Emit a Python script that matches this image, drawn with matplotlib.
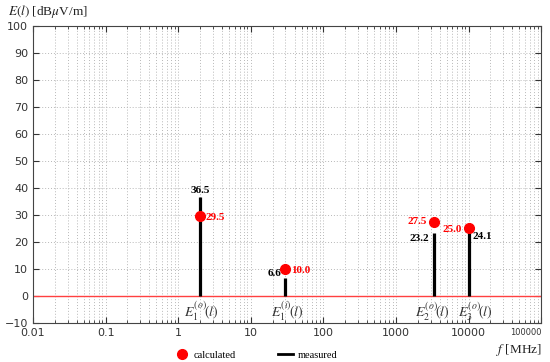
import matplotlib
matplotlib.use("Agg")
import matplotlib.pyplot as plt
from matplotlib.lines import Line2D
from matplotlib.ticker import LogLocator, NullFormatter, FixedLocator, FixedFormatter

freqs = [2, 30, 3300, 10000]
measured = [36.5, 6.6, 23.2, 24.1]
calculated = [29.5, 10.0, 27.5, 25.0]
names = [r"$E_1^{(o)}\!(l)$", r"$E_1^{(i)}\!(l)$", r"$E_2^{(o)}\!(l)$", r"$E_3^{(o)}\!(l)$"]
xticks = [0.01, 0.1, 1, 10, 100, 1000, 10000, 100000]
xticklabels = ["0.01", "0.1", "1", "10", "100", "1000", "10000", "100000"]
yticks = list(range(-10, 101, 10))

plt.rcParams["mathtext.fontset"] = "stix"
serif = "Liberation Serif"

fig = plt.figure(figsize=(5.5, 3.62), dpi=100)
ax = fig.add_axes([0.06, 0.108, 0.924, 0.82])

ax.set_xscale("log")
ax.set_xlim(0.01, 100000)
ax.set_ylim(-10, 100)

ax.xaxis.set_major_locator(FixedLocator(xticks))
ax.xaxis.set_major_formatter(FixedFormatter(xticklabels))
ax.xaxis.set_minor_locator(LogLocator(base=10, subs=range(2, 10), numticks=20))
ax.xaxis.set_minor_formatter(NullFormatter())
ax.set_yticks(yticks)

ax.grid(True, which="both", axis="x", color="#b8b8b8", linestyle=(0, (1, 2)), linewidth=0.7)
ax.grid(True, which="major", axis="y", color="#b8b8b8", linestyle=(0, (1, 2)), linewidth=0.7)
ax.tick_params(which="both", direction="in", top=True, right=True, labelsize=8, colors="#333333")
ax.tick_params(which="major", length=4)
ax.tick_params(which="minor", length=2.5)
for lbl in ax.get_xticklabels():
    if lbl.get_text() == "100000":
        lbl.set_fontsize(6)
        lbl.set_horizontalalignment("right")
for sp in ax.spines.values():
    sp.set_color("#444444")

ax.axhline(0, color="#ff4040", linewidth=1)

ax.vlines(freqs, 0, measured, color="black", linewidth=2.3, zorder=3)
ax.plot(freqs, calculated, "o", color="red", markersize=7, zorder=4)

# value labels: (offset for calculated, ha), (offset for measured, ha)
calc_off = [((4, -1), "left"), ((4, -1), "left"), ((-5, 0), "right"), ((-5, -1), "right")]
meas_off = [((0, 5), "center"), ((-3, 3), "right"), ((-3, -4), "right"), ((3, -4), "left")]
for f, m, c, (co, cha), (mo, mha) in zip(freqs, measured, calculated, calc_off, meas_off):
    ax.annotate(f"{c:.1f}", (f, c), xytext=co, textcoords="offset points", ha=cha,
                va="center", color="red", fontsize=8, fontweight="bold", family=serif)
    ax.annotate(f"{m:.1f}", (f, m), xytext=mo, textcoords="offset points", ha=mha,
                va="center", color="black", fontsize=8, fontweight="bold", family=serif)

name_dx = [1, 1, -1, 5]
for f, n, dx in zip(freqs, names, name_dx):
    ax.annotate(n, (f, 0), xytext=(dx, -3), textcoords="offset points", ha="center",
                va="top", fontsize=10, color="#333333")

fig.text(0.015, 0.992, r"$E(l)$ [dB$\mu$V/m]", fontsize=9.5, family=serif, va="top", color="#222222")
fig.text(0.985, 0.01, r"$f$ [MHz]", fontsize=9.5, family=serif, ha="right", va="bottom", color="#222222")

handles = [Line2D([], [], marker="o", color="red", linestyle="none", markersize=7),
           Line2D([], [], color="black", linewidth=2)]
fig.legend(handles, ["calculated", "measured"], loc="lower center", bbox_to_anchor=(0.465, -0.02),
           ncol=2, frameon=False, prop={"family": serif, "size": 7.5}, columnspacing=4,
           handlelength=1.5, handletextpad=0.4)

fig.savefig("out.png", dpi=100)
